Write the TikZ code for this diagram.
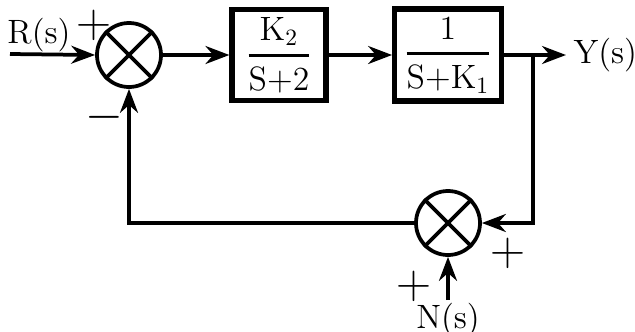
\documentclass[tikz,border=0pt]{standalone}
\usepackage{amsmath}
\usetikzlibrary{arrows.meta,positioning}

\newcommand{\tfr}[2]{$\genfrac{}{}{1.3pt}{0}{\text{#1}}{\text{#2}}$}

\begin{document}
\begin{tikzpicture}[
    x=0.015cm, y=-0.015cm, >=Stealth,
    sumj/.style={circle, draw, line width=1.6pt, minimum size=0.96cm, inner sep=0pt},
    blk/.style={rectangle, draw, line width=2.2pt, minimum height=1.12cm, font=\Large},
    arr/.style={->, line width=1.6pt},
    lin/.style={line width=1.6pt},
    lbl/.style={font=\Large, inner sep=1pt},
    sgn/.style={font=\huge, inner sep=0pt}
  ]
    \useasboundingbox (0,0) rectangle (635,332);

    %--- forward path ---
    \coordinate (rin) at (10,54);
    \node[sumj] (s1) at (129,55) {};
    \node[blk, minimum width=1.41cm] (g2) at (279,55) {\tfr{K$_2$}{S+2}};
    \node[blk, minimum width=1.6cm] (g1) at (448,55) {\tfr{1}{S+K$_1$}};
    \coordinate (br) at (533,55);
    \coordinate (yout) at (566,55);
    \node[lbl, right=2pt of yout] (y) {Y(s)};

    %--- feedback path ---
    \node[sumj] (s2) at (448,223) {};
    \coordinate (nin) at (448,300);
    \node[lbl, below=0pt of nin] (n) {N(s)};

    \foreach \s in {s1,s2}{
      \draw[lin] (\s.north west) -- (\s.south east);
      \draw[lin] (\s.north east) -- (\s.south west);
    }

    \draw[arr] (rin) -- (s1.west);
    \draw[arr] (s1.east) -- (g2.west);
    \draw[arr] (g2.east) -- (g1.west);
    \draw[arr] (g1.east) -- (yout);
    \draw[arr] (br) |- (s2.east);
    \draw[arr] (nin) -- (s2.south);
    \draw[arr] (s2.west) -| (s1.south);

    %--- signs and labels ---
    \node[lbl] (r) at (39,35) {R(s)};
    \node[sgn] (p1) at (94,25) {+};
    \node[sgn] (m1) at (104,117) {$-$};
    \node[sgn] (p2) at (508,253) {+};
    \node[sgn] (p3) at (414,286) {+};
  \end{tikzpicture}
\end{document}
